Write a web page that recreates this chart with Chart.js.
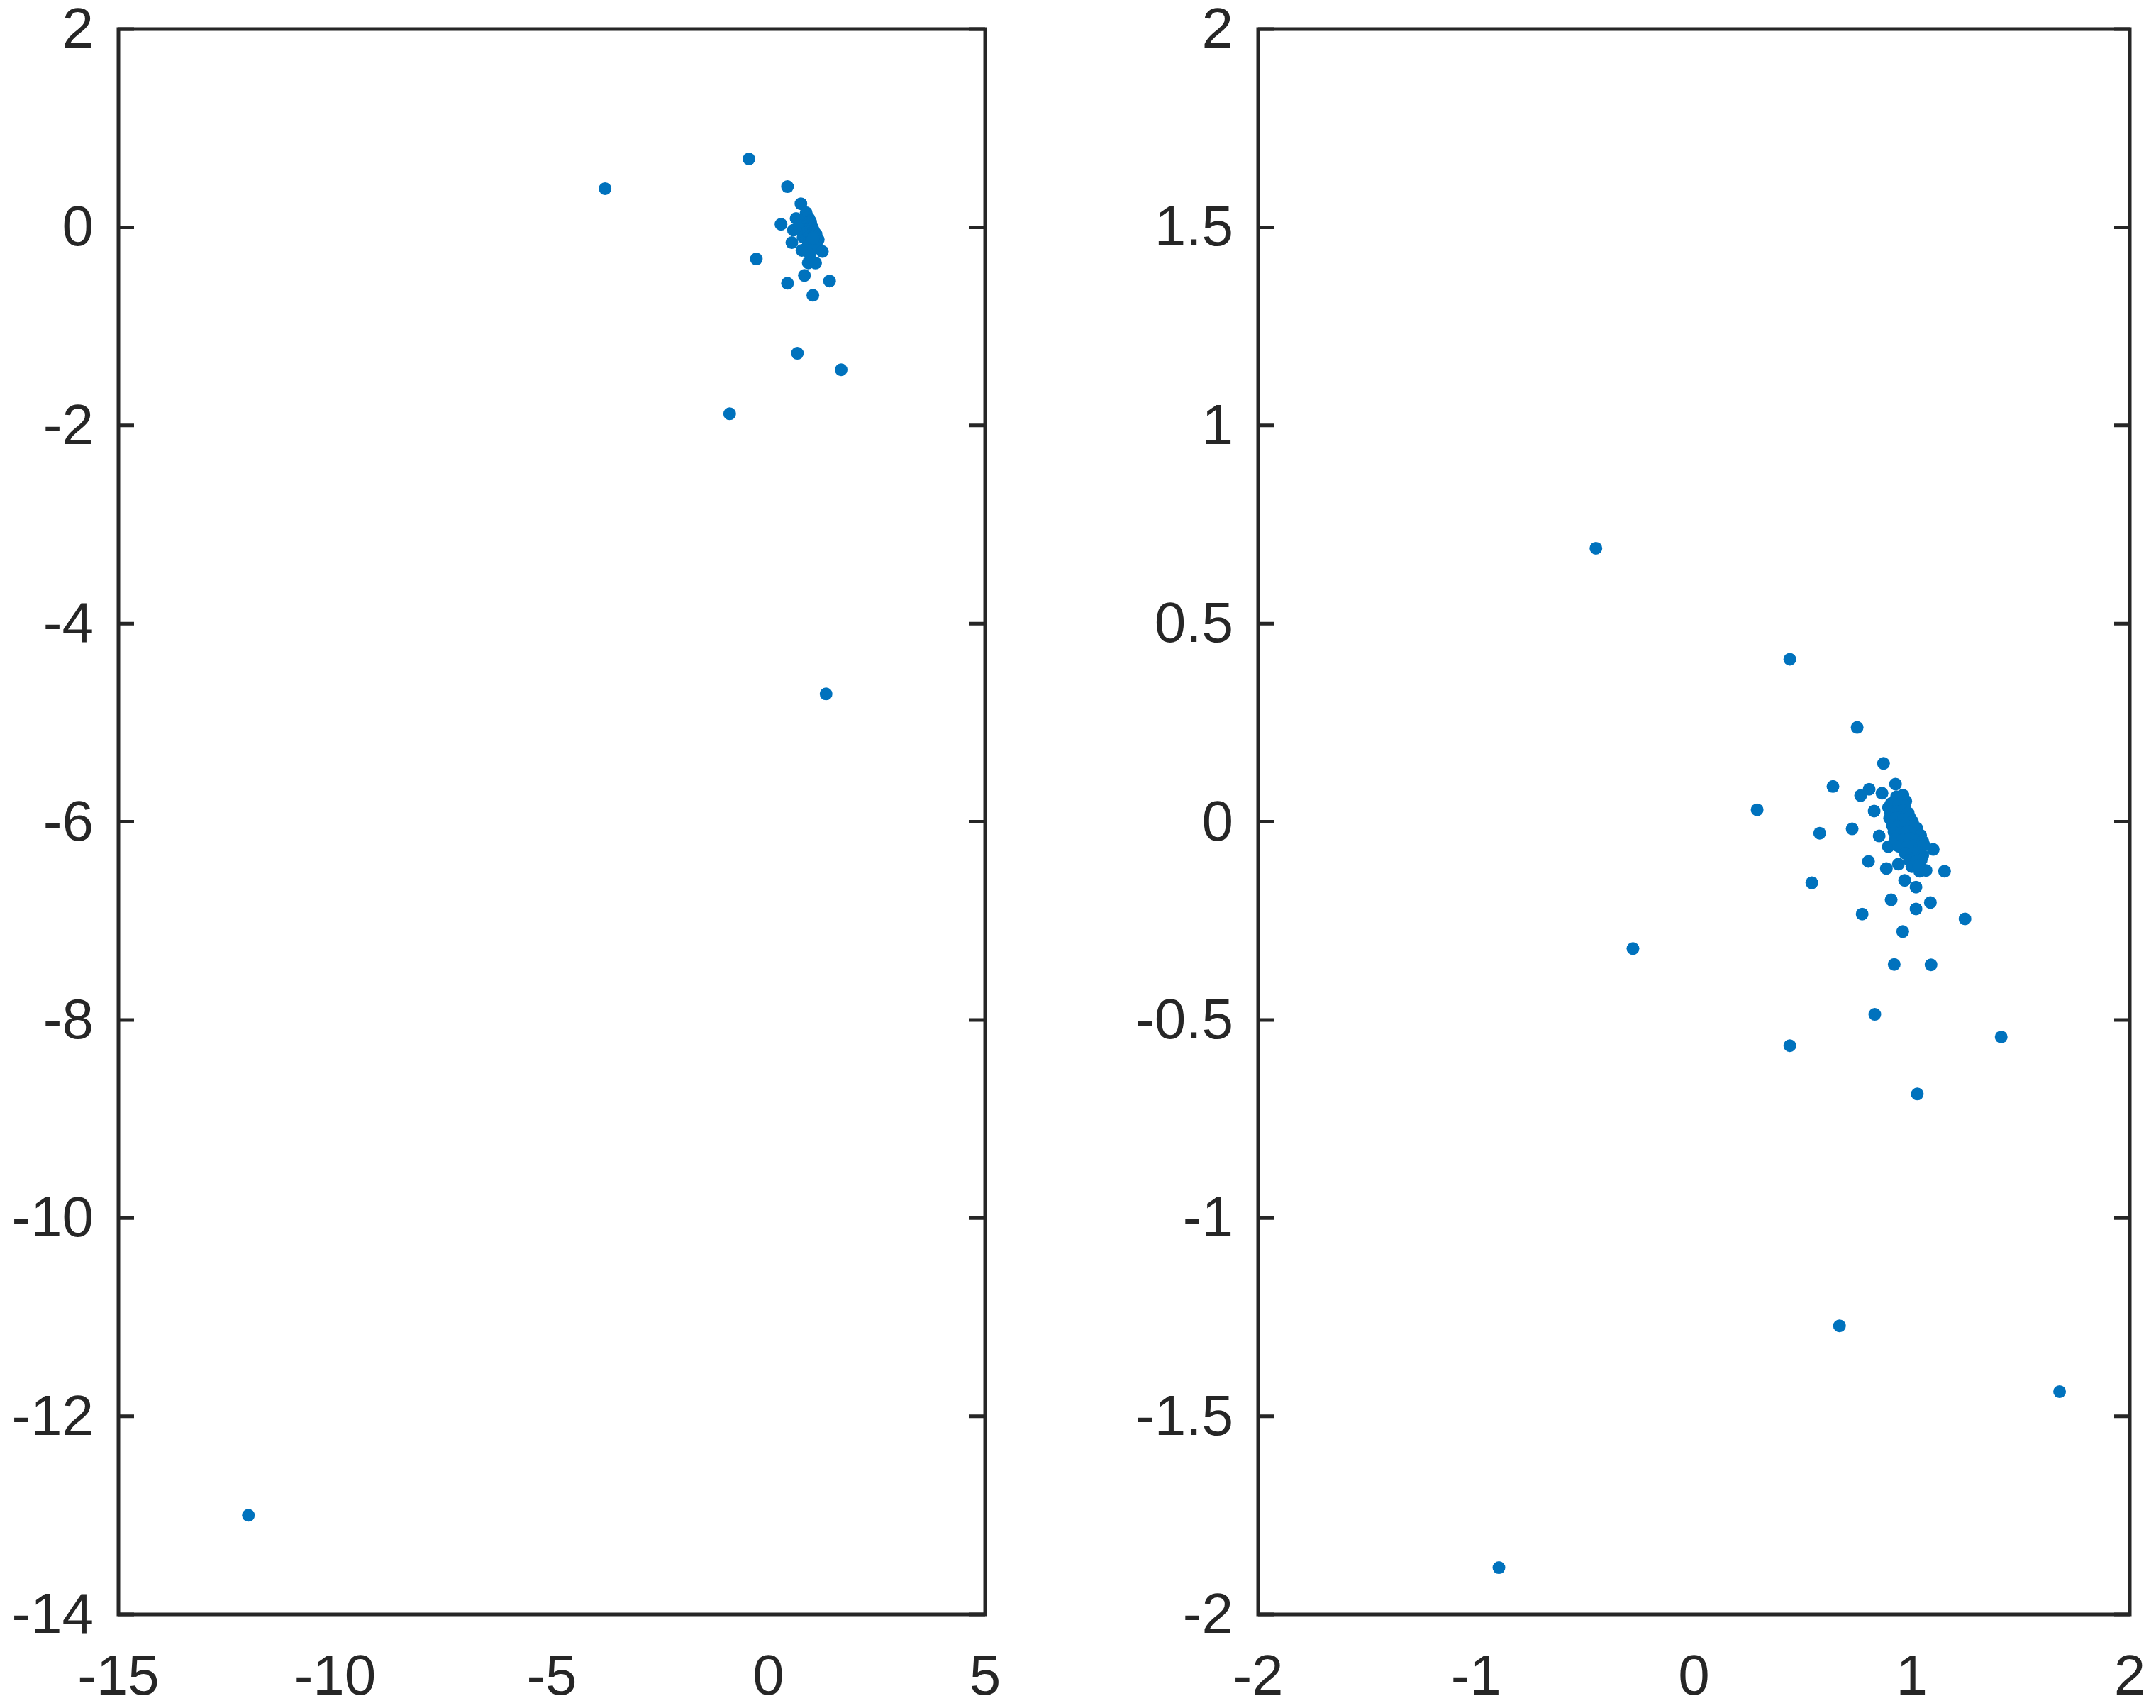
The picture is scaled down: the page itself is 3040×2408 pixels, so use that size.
<!DOCTYPE html>
<html>
<head>
<meta charset="utf-8">
<title>Scatter</title>
<script src="https://cdn.jsdelivr.net/npm/chart.js@4.4.1/dist/chart.umd.min.js"></script>
<style>
  body { margin: 0; background: #fff; }
  #wrap { position: relative; width: 3040px; height: 2408px; background: #fff; }
  canvas { position: absolute; top: 0; }
  #left-plot { left: 0; }
  #right-plot { left: 1560px; }
</style>
</head>
<body>
<div id="wrap">
  <canvas id="left-plot" width="1560" height="2408"></canvas>
  <canvas id="right-plot" width="1480" height="2408"></canvas>
</div>
<script>
// same points go in both panels, the right one is just zoomed in
const pointsX = [
  -12.0, -3.77, 1.33, -0.45, 0.44, 0.29, -0.28, 0.44, 0.83, 1.41, 1.025, 0.668, 1.678, -0.895,
  0.749, 0.870, 0.638, 0.804, 0.925, 0.765, 0.863, 0.959, 0.827, 0.893, 0.577, 0.726, 0.850, 0.892,
  1.098, 0.801, 0.883, 0.938, 1.065, 1.036, 1.150, 0.541, 0.967, 1.019, 0.905, 1.085, 1.019, 0.772,
  1.244, 0.958, 0.919, 1.088,
  0.930, 0.955, 0.972, 0.905, 0.940, 0.968, 0.900, 0.930, 0.958, 0.983,
  0.898, 0.928, 0.962, 0.990, 1.003, 0.910, 0.940, 0.972, 1.000, 1.022,
  0.918, 0.950, 0.980, 1.012, 1.040, 0.925, 0.958, 0.990, 1.020, 1.050,
  0.940, 0.978, 1.008, 1.038, 1.055, 0.970, 1.000, 1.030, 1.050,
  0.990, 1.020, 1.043, 1.000, 1.030
];
const pointsY = [
  -13.0, 0.39, -4.71, 0.69, 0.41, 0.03, -0.32, -0.565, -0.486, -0.543, -0.687, -1.272, -1.438, -1.882,
  0.238, 0.147, 0.089, 0.082, 0.095, 0.066, 0.072, 0.067, 0.027, 0.036, -0.029, -0.018, -0.036, -0.063,
  -0.070, -0.100, -0.118, -0.107, -0.123, -0.125, -0.125, -0.154, -0.148, -0.165, -0.197, -0.204, -0.220, -0.233,
  -0.245, -0.277, -0.360, -0.361,
  0.063, 0.060, 0.052, 0.046, 0.044, 0.040, 0.027, 0.025, 0.028, 0.022,
  0.009, 0.010, 0.006, 0.011, 0.000, -0.009, -0.011, -0.008, -0.012, -0.016,
  -0.026, -0.028, -0.024, -0.030, -0.034, -0.044, -0.046, -0.042, -0.047, -0.050,
  -0.062, -0.064, -0.060, -0.066, -0.058, -0.080, -0.082, -0.078, -0.085,
  -0.098, -0.100, -0.096, -0.113, -0.110
];

const leftXTicks = [-15, -10, -5, 0, 5];
const leftYTicks = [-14, -12, -10, -8, -6, -4, -2, 0, 2];
const rightXTicks = [-2, -1, 0, 1, 2];
const rightYTicks = [-2, -1.5, -1, -0.5, 0, 0.5, 1, 1.5, 2];

const markerColor = '#0072BD';
const axisColor = '#262626';
const fontFamily = '"Liberation Sans", Arial, Helvetica, sans-serif';
const tickLen = 22;

// box round the plot plus inward y ticks on both sides
const boxAndTicks = {
    id: 'boxAndTicks',
    afterDatasetsDraw(chart) {
        const { ctx, chartArea: a, scales } = chart;
        ctx.save();
        ctx.strokeStyle = axisColor;
        ctx.lineWidth = 5;
        ctx.beginPath();
        scales.y.ticks.forEach(t => {
            const py = scales.y.getPixelForValue(t.value);
            ctx.moveTo(a.left, py);
            ctx.lineTo(a.left + tickLen, py);
            ctx.moveTo(a.right, py);
            ctx.lineTo(a.right - tickLen, py);
        });
        ctx.stroke();
        ctx.lineJoin = 'miter';
        ctx.strokeRect(a.left, a.top, a.right - a.left, a.bottom - a.top);
        ctx.restore();
    }
};

function fmt(v) {
    return String(Math.round(v * 100) / 100);
}

function makeChart(canvasId, xTicks, yTicks, yAxisWidth, rightPad) {
    const data = pointsX.map((x, i) => ({ x: x, y: pointsY[i] }));
    const tickFont = { family: fontFamily, size: 80, lineHeight: 1.2 };

    new Chart(document.getElementById(canvasId), {
        type: 'scatter',
        data: {
            datasets: [{
                data: data,
                backgroundColor: markerColor,
                borderWidth: 0,
                pointRadius: 9,
                pointHoverRadius: 9
            }]
        },
        options: {
            responsive: false,
            animation: false,
            events: [],
            layout: { padding: { left: 0, right: rightPad, top: 41, bottom: 0 } },
            plugins: { legend: { display: false }, tooltip: { enabled: false } },
            scales: {
                x: {
                    type: 'linear',
                    min: xTicks[0],
                    max: xTicks[xTicks.length - 1],
                    grid: { display: false },
                    border: { display: false },
                    afterBuildTicks: scale => { scale.ticks = xTicks.map(v => ({ value: v })); },
                    afterFit: scale => {
                        scale.height = 132;
                        scale.paddingLeft = 0;
                        scale.paddingRight = 0;
                    },
                    ticks: {
                        autoSkip: false,
                        maxRotation: 0,
                        padding: 35,
                        color: axisColor,
                        font: tickFont,
                        callback: v => fmt(v)
                    }
                },
                y: {
                    type: 'linear',
                    min: yTicks[0],
                    max: yTicks[yTicks.length - 1],
                    grid: { display: false },
                    border: { display: false },
                    afterBuildTicks: scale => { scale.ticks = yTicks.map(v => ({ value: v })); },
                    afterFit: scale => {
                        scale.width = yAxisWidth;
                        scale.paddingTop = 0;
                        scale.paddingBottom = 0;
                    },
                    ticks: {
                        autoSkip: false,
                        padding: 27,
                        labelOffset: 4,
                        color: axisColor,
                        font: tickFont,
                        callback: v => fmt(v)
                    }
                }
            }
        },
        plugins: [boxAndTicks]
    });
}

makeChart('left-plot', leftXTicks, leftYTicks, 167, 1560 - 1389);
makeChart('right-plot', rightXTicks, rightYTicks, 1774 - 1560, 1480 - (3003 - 1560));
</script>
</body>
</html>
